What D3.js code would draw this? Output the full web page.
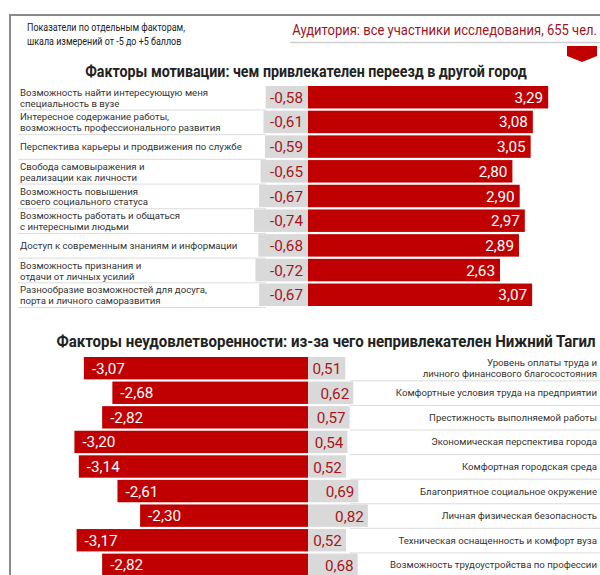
<!DOCTYPE html>
<html><head><meta charset="utf-8">
<script src="https://cdn.jsdelivr.net/npm/d3@7"></script>
<style>
body{margin:0;background:#fff;}
svg{display:block;font-family:Roboto,"Noto Sans",sans-serif;}
</style></head><body>
<svg id="c" width="600" height="575"></svg>
<script>
const motivLabels = [
  ["Возможность найти интересующую меня","специальность в вузе"],
  ["Интересное содержание работы,","возможность профессионального развития"],
  ["Перспектива карьеры и продвижения по службе"],
  ["Свобода самовыражения и","реализации как личности"],
  ["Возможность повышения","своего социального статуса"],
  ["Возможность работать и общаться","с интересными людьми"],
  ["Доступ к современным знаниям и информации"],
  ["Возможность признания и","отдачи от личных усилий"],
  ["Разнообразие возможностей для досуга,","порта и личного саморазвития"]
];
const motivNeg = [-0.58,-0.61,-0.59,-0.65,-0.67,-0.74,-0.68,-0.72,-0.67];
const motivPos = [3.29,3.08,3.05,2.80,2.90,2.97,2.89,2.63,3.07];

const dissLabels = [
  ["Уровень оплаты труда и","личного финансового благосостояния"],
  ["Комфортные условия труда на предприятии"],
  ["Престижность выполняемой работы"],
  ["Экономическая перспектива города"],
  ["Комфортная городская среда"],
  ["Благоприятное социальное окружение"],
  ["Личная физическая безопасность"],
  ["Техническая оснащенность и комфорт вуза"],
  ["Возможность трудоустройства по профессии"]
];
const dissNeg = [-3.07,-2.68,-2.82,-3.20,-3.14,-2.61,-2.30,-3.17,-2.82];
const dissPos = [0.51,0.62,0.57,0.54,0.52,0.69,0.82,0.52,0.68];

const RED = "#c00000", GRAY = "#d9d9d9", DARKRED = "#a8161c";
const fmt = v => d3.format(".2f")(v).replace(".", ",").replace("−","-");

const svg = d3.select("#c");

function ratioFor(str, size, weight, target){
  const t = svg.append("text").attr("font-size",size).attr("font-weight",weight).text(str);
  const L = t.node().getComputedTextLength(); t.remove();
  return target / L;
}
// place a horizontally condensed text (mimics the narrow font of the original)
function ctext(parent, x, y, k, lines, lh){
  const t = parent.append("text").attr("transform",`translate(${x},${y}) scale(${k},1)`);
  lines.forEach((s,i)=>t.append("tspan").attr("x",0).attr("y",i*lh).text(s));
  return t;
}

// frame
svg.append("path").attr("d","M10,575 L10,15 L600,15").attr("fill","none").attr("stroke","#8a8a8a").attr("stroke-width",2);

// header
const hdrK = ratioFor("Показатели по отдельным факторам,",11.5,"normal",158);
ctext(svg,27,31,hdrK,["Показатели по отдельным факторам,","шкала измерений от -5 до +5 баллов"],14)
  .attr("font-size",11.5).attr("fill","#222");

const audStr = "Аудитория: все участники исследования, 655 чел.";
ctext(svg,597,35,ratioFor(audStr,15,"normal",305),[audStr],0)
  .attr("text-anchor","end").attr("font-size",15).attr("fill","#a0141e");
svg.append("line").attr("x1",290).attr("x2",600).attr("y1",42.5).attr("y2",42.5).attr("stroke","#cfcfcf").attr("stroke-width",1.5);
svg.append("path").attr("d","M567,46 L597,46 L597,56 L582,62 L567,56 Z").attr("fill",RED);

// titles
const title1 = "Факторы мотивации: чем привлекателен переезд в другой город";
const title2 = "Факторы неудовлетворенности: из-за чего непривлекателен Нижний Тагил";
ctext(svg,306,77,ratioFor(title1,16.5,"bold",442),[title1],0)
  .attr("text-anchor","middle").attr("font-size",16.5).attr("font-weight","bold").attr("fill","#222");
ctext(svg,326,347,ratioFor(title2,16.5,"bold",540),[title2],0)
  .attr("text-anchor","middle").attr("font-size",16.5).attr("font-weight","bold").attr("fill","#222");

const LBL = 9.6, LH = 11;
const kLbl = ratioFor("Перспектива карьеры и продвижения по службе", LBL, "normal", 222);
const VAL = 14.5;
const kVal = ratioFor("-0,58", VAL, "normal", 33);

const x = d3.scaleLinear().domain([0,1]).range([308,381]);

// ---------- top chart ----------
const y1 = d3.scaleBand().domain(d3.range(motivLabels.length)).range([86,306]).paddingInner(0.09);
const rows1 = motivLabels.map((l,i)=>({l,i,n:motivNeg[i],p:motivPos[i]}));
const g1 = svg.append("g");
g1.selectAll("line").data(rows1).join("line").attr("x1",18).attr("x2",266)
  .attr("y1",d=>y1(d.i)+y1.bandwidth()+1.5).attr("y2",d=>y1(d.i)+y1.bandwidth()+1.5).attr("stroke","#dcdcdc");
g1.selectAll("rect.neg").data(rows1).join("rect").attr("class","neg").attr("x",d=>x(d.n)).attr("width",d=>x(0)-x(d.n)).attr("y",d=>y1(d.i)).attr("height",y1.bandwidth()).attr("fill",GRAY);
g1.selectAll("rect.pos").data(rows1).join("rect").attr("class","pos").attr("x",x(0)).attr("width",d=>x(d.p)-x(0)).attr("y",d=>y1(d.i)).attr("height",y1.bandwidth()).attr("fill",RED);
rows1.forEach(d=>{
  const cy = y1(d.i)+y1.bandwidth()/2;
  ctext(g1, x(0)-5, cy+5.5, kVal, [fmt(d.n)], 0).attr("text-anchor","end").attr("font-size",VAL).attr("fill",DARKRED);
  ctext(g1, x(d.p)-5, cy+5.5, kVal, [fmt(d.p)], 0).attr("text-anchor","end").attr("font-size",VAL).attr("fill","#fff");
  const start = d.l.length===1 ? cy+3.5 : cy-1.5;
  ctext(g1, 20, start, kLbl, d.l, LH).attr("font-size",LBL).attr("fill","#333");
});

// ---------- bottom chart ----------
const y2 = d3.scaleBand().domain(d3.range(dissLabels.length)).range([357,576]).paddingInner(0.09);
const rows2 = dissLabels.map((l,i)=>({l,i,n:dissNeg[i],p:dissPos[i]}));
const g2 = svg.append("g");
g2.selectAll("line").data(rows2).join("line").attr("x1",350).attr("x2",600)
  .attr("y1",d=>y2(d.i)+y2.bandwidth()+1.5).attr("y2",d=>y2(d.i)+y2.bandwidth()+1.5).attr("stroke","#dcdcdc");
g2.selectAll("rect.neg").data(rows2).join("rect").attr("class","neg").attr("x",d=>x(d.n)).attr("width",d=>x(0)-x(d.n)).attr("y",d=>y2(d.i)).attr("height",y2.bandwidth()).attr("fill",RED);
g2.selectAll("rect.pos").data(rows2).join("rect").attr("class","pos").attr("x",x(0)).attr("width",d=>x(d.p)-x(0)).attr("y",d=>y2(d.i)).attr("height",y2.bandwidth()).attr("fill",GRAY);
rows2.forEach(d=>{
  const cy = y2(d.i)+y2.bandwidth()/2;
  ctext(g2, x(d.n)+8, cy+5.5, kVal, [fmt(d.n)], 0).attr("font-size",VAL).attr("fill","#fff");
  ctext(g2, x(d.p)-4, cy+6, kVal, [fmt(d.p)], 0).attr("text-anchor","end").attr("font-size",VAL).attr("fill",DARKRED);
  const start = d.l.length===1 ? cy+3.5 : cy-2;
  ctext(g2, 597, start, kLbl, d.l, LH).attr("text-anchor","end").attr("font-size",LBL).attr("fill","#333");
});
</script>
</body></html>
